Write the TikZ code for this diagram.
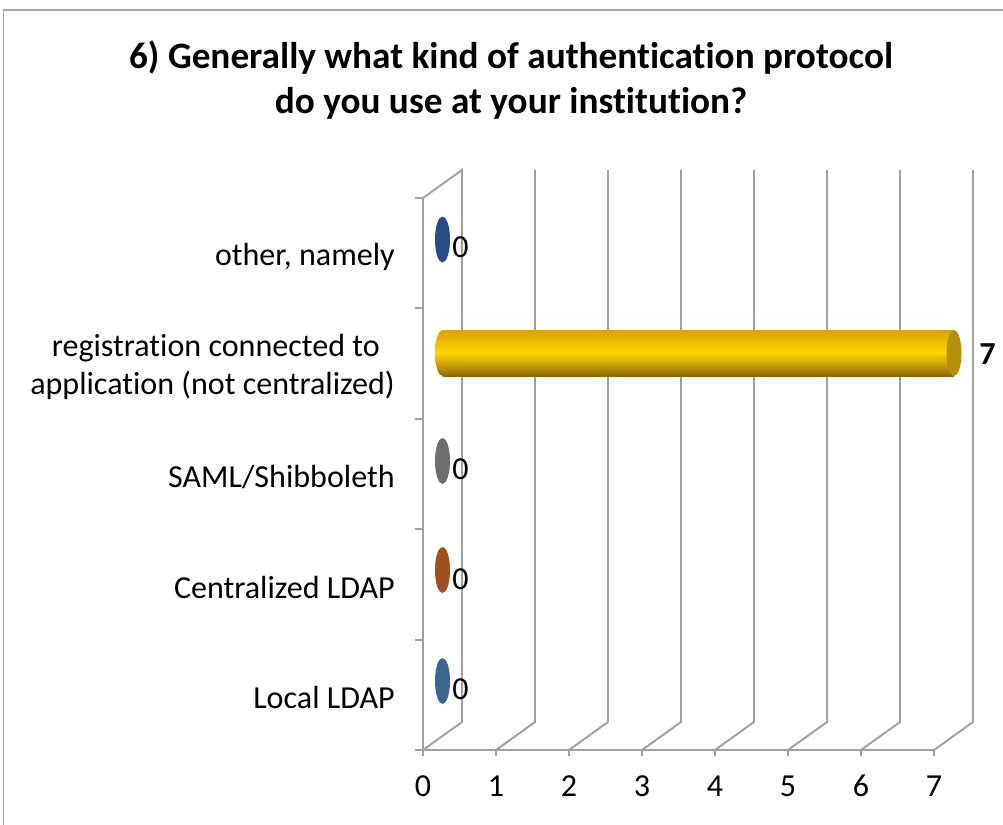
\documentclass[tikz,border=0pt]{standalone}
\usepackage{fontspec}
\setmainfont{Carlito}[Ligatures=NoCommon]
\usepackage{xcolor}
\usepackage{tikz}
\definecolor{gridgray}{HTML}{A0A0A0}
\definecolor{framegray}{HTML}{A6A6A6}
\definecolor{otherblue}{HTML}{2B4C80}
\definecolor{samlgray}{HTML}{6E6E6E}
\definecolor{ldaporange}{HTML}{A0501E}
\definecolor{localblue}{HTML}{3A6690}
\definecolor{goldtop}{HTML}{D9A200}
\definecolor{goldmid}{HTML}{FFD600}
\definecolor{goldbot}{HTML}{8E6C00}
\definecolor{goldcap}{HTML}{B58F08}
\tikzset{
    GL/.style ={draw=gridgray, line width=1.4pt},
    CL/.style ={anchor=east, inner sep=0pt, align=right, font=\fontsize{22.8}{27}\selectfont},
    NL/.style ={inner sep=0pt, font=\fontsize{22.8}{27}\selectfont},
    DL/.style ={anchor=west, inner sep=0pt, font=\fontsize{22.8}{27}\selectfont},
    ZB/.style ={x radius=7.5, y radius=23},
    GB/.style ={top color=goldtop, bottom color=goldbot, middle color=goldmid}
}
\begin{document}
\begin{tikzpicture}[x=0.25mm,y=-0.25mm]
        \useasboundingbox (0,0) rectangle (1003,825);
        \draw[framegray, line width=1pt] (1003,10)--(3.5,10)--(3.5,825);
        \node[align=center, font=\bfseries\fontsize{26.5}{32}\selectfont] (title) at (511,80)
            {6) Generally what kind of authentication protocol\\do you use at your institution?};
        % back wall and floor
        \draw[GL] (423,750)--(423,198)--(462,170)--(462,722)--(423,750)--(934,750);
        \draw[GL] (535,170)--(535,722)--(496,750);
        \draw[GL] (608,170)--(608,722)--(569,750);
        \draw[GL] (681,170)--(681,722)--(642,750);
        \draw[GL] (754,170)--(754,722)--(715,750);
        \draw[GL] (827,170)--(827,722)--(788,750);
        \draw[GL] (900,170)--(900,722)--(861,750);
        \draw[GL] (973,170)--(973,722)--(934,750);
        \draw[GL] (415,198)--(423,198) (415,308.4)--(423,308.4) (415,418.8)--(423,418.8)
                  (415,529.2)--(423,529.2) (415,639.6)--(423,639.6) (415,750)--(423,750);
        \draw[GL] (423,750)--(423,756) (496,750)--(496,756) (569,750)--(569,756) (642,750)--(642,756)
                  (715,750)--(715,756) (788,750)--(788,756) (861,750)--(861,756) (934,750)--(934,756);
        % bars
        \fill[otherblue] (442.5,239.5) ellipse [ZB];
        \shade[GB] (442.5,353) ellipse [ZB];
        \shade[GB] (442.5,330) rectangle (954,376);
        \fill[goldcap] (954,353) ellipse [ZB];
        \fill[samlgray] (442.5,461) ellipse [ZB];
        \fill[ldaporange] (442.5,570) ellipse [ZB];
        \fill[localblue] (442.5,681) ellipse [ZB];
        % values
        \node[DL] (v5) at (452,247){0};
        \node[DL, font=\bfseries\fontsize{22.8}{27}\selectfont] (v4) at (979,354){7};
        \node[DL] (v3) at (452,469){0};
        \node[DL] (v2) at (452,579){0};
        \node[DL] (v1) at (452,689){0};
        % categories
        \node[CL] (c5) at (395,257){other, namely};
        \node[CL] (c4) at (395,367){registration connected to\hspace*{10.7pt}\\application (not centralized)};
        \node[CL] (c3) at (395,477){SAML/Shibboleth};
        \node[CL] (c2) at (395,587){Centralized LDAP};
        \node[CL] (c1) at (395,697){Local LDAP};
        % axis numbers
        \node[NL] (n0) at (423,786){0};
        \node[NL] (n1) at (496,786){1};
        \node[NL] (n2) at (569,786){2};
        \node[NL] (n3) at (642,786){3};
        \node[NL] (n4) at (715,786){4};
        \node[NL] (n5) at (788,786){5};
        \node[NL] (n6) at (861,786){6};
        \node[NL] (n7) at (934,786){7};
    \end{tikzpicture}
\end{document}
